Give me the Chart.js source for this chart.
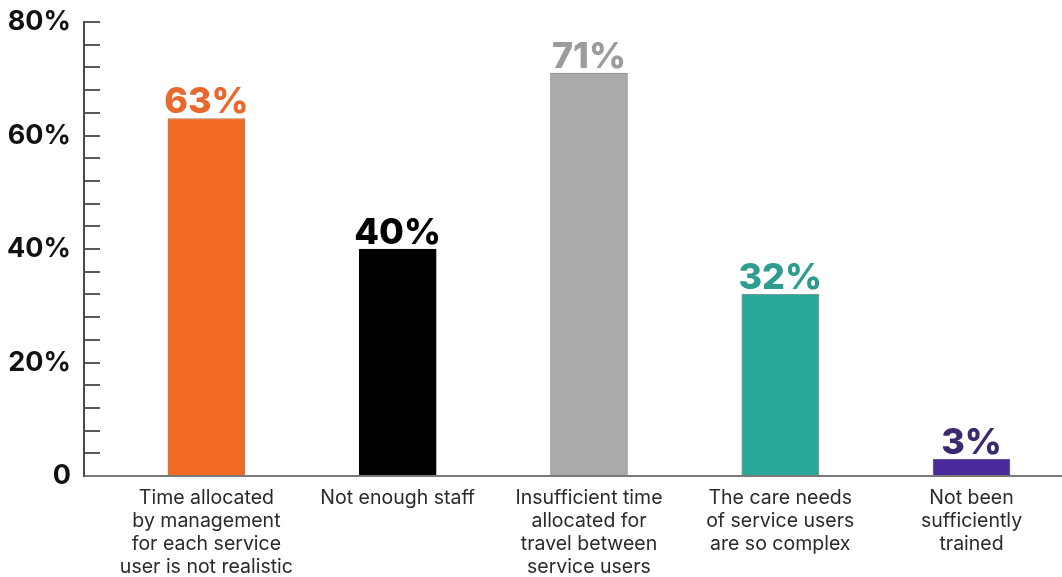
<!DOCTYPE html>
<html>
<head>
<meta charset="utf-8">
<script src="https://cdn.jsdelivr.net/npm/chart.js@4.4.1/dist/chart.umd.min.js"></script>
<style>
    html, body { margin: 0; padding: 0; background: #fff; }
    #wrap { width: 1062px; height: 577px; position: relative; }
</style>
</head>
<body>
<div id="wrap"><canvas id="reasons"></canvas></div>
<script>
// Reasons given, one entry per bar
const categories = [
    ['Time allocated', 'by management', 'for each service', 'user is not realistic'],
    ['Not enough staff'],
    ['Insufficient time', 'allocated for', 'travel between', 'service users'],
    ['The care needs', 'of service users', 'are so complex'],
    ['Not been', 'sufficiently', 'trained']
]
const percentages = [63, 40, 71, 32, 3]
const barColors = ['#f26b22', '#000000', '#aaaaaa', '#2aa99b', '#4b2a9c']
const labelColors = ['#e9682c', '#000000', '#9c9c9c', '#2e9d8f', '#3b2a70']
const yTickLabels = { 0: '0', 20: '20%', 40: '40%', 60: '60%', 80: '80%' }

const FONT = 'Inter, "Noto Sans", sans-serif'

// value labels above each bar
const valueLabels = {
    id: 'valueLabels',
    afterDatasetsDraw(chart) {
        const ctx = chart.ctx
        const meta = chart.getDatasetMeta(0)
        ctx.save()
        ctx.font = '800 36px ' + FONT
        ctx.textAlign = 'center'
        ctx.textBaseline = 'alphabetic'
        meta.data.forEach((bar, i) => {
            ctx.fillStyle = labelColors[i]
            ctx.fillText(percentages[i] + '%', bar.x, bar.y - 5)
        })
        ctx.restore()
    }
}

new Chart(document.getElementById('reasons'), {
    type: 'bar',
    data: {
        datasets: [{
            data: percentages.map((v, i) => ({ x: i, y: v })),
            backgroundColor: barColors,
            borderColor: ['#b87a5a', '#000000', '#8f8f8f', '#6f9c97', '#6d6d8a'],
            borderWidth: 1,
            barThickness: 77
        }]
    },
    options: {
        responsive: true,
        maintainAspectRatio: false,
        animation: false,
        layout: {
            padding: { top: 22, right: 0, left: 0, bottom: 0 }
        },
        plugins: {
            legend: { display: false },
            tooltip: { enabled: false }
        },
        scales: {
            x: {
                type: 'linear',
                offset: false,
                min: -0.64,
                max: 4.473,
                afterBuildTicks(scale) {
                    scale.ticks = categories.map((c, i) => ({ value: i }))
                },
                afterFit(scale) {
                    scale.height = 101
                    scale.paddingLeft = 0
                    scale.paddingRight = 0
                },
                grid: { display: false },
                border: { display: true, color: '#7a7a7a', width: 2 },
                ticks: {
                    autoSkip: false,
                    maxRotation: 0,
                    padding: 3,
                    color: '#2a2a2a',
                    font: { family: FONT, size: 19.5, lineHeight: 1.18 },
                    callback: (value) => categories[value]
                }
            },
            y: {
                min: 0,
                max: 80,
                afterFit(scale) {
                    scale.width = 84
                    scale.paddingTop = 0
                    scale.paddingBottom = 0
                },
                grid: {
                    drawOnChartArea: false,
                    drawTicks: true,
                    tickLength: -16,
                    color: '#5a5a5a',
                    lineWidth: 2
                },
                border: { display: true, color: '#4a4a4a', width: 2 },
                ticks: {
                    stepSize: 4,
                    maxTicksLimit: 25,
                    autoSkip: false,
                    padding: 29,
                    color: '#111111',
                    font: { family: FONT, size: 27, weight: 'bold' },
                    callback: (value) => yTickLabels[value] ?? ''
                }
            }
        }
    },
    plugins: [valueLabels]
})
</script>
</body>
</html>
